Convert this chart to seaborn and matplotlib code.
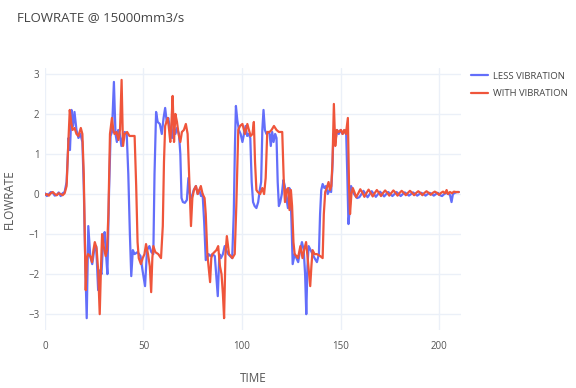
import matplotlib
matplotlib.use("Agg")
import matplotlib.pyplot as plt
import seaborn as sns
import pandas as pd

# ---------------- data ----------------
less_t = [0, 1, 2, 3, 4, 5, 6, 7, 8, 9, 10, 11, 12, 12.7, 13.5, 14.3, 15, 16, 17, 18, 19,
          19.7, 20.5, 21.2, 22, 23, 24, 25, 26, 27, 28, 28.7, 29.5, 30.3, 31, 31.7, 32.5,
          33.3, 34, 35, 35.8, 36.5, 37.2, 38, 38.8, 39.5, 40.5, 41.5, 42.3, 43.1, 43.8,
          44.6, 45.5, 47, 48.5, 49.5, 50.8, 51.8, 53, 54, 55, 55.6, 56.4, 57.2, 58.3,
          59.3, 60.2, 61, 61.8, 62.6, 63.5, 64.5, 65.3, 66.2, 67, 68, 68.7, 69.3, 70, 71,
          72, 72.8, 73.5, 74.3, 75.5, 76.6, 77.5, 78.3, 79.2, 80, 80.8, 81.6, 82.3, 83,
          84, 85, 86.2, 86.9, 87.7, 88.5, 89.3, 90.3, 91.2, 92, 93, 94, 95, 95.8, 96.4,
          96.9, 97.6, 98.4, 99.3, 100.2, 101, 101.8, 102.6, 103.4, 104.2, 104.9, 105.6,
          106.4, 107.3, 108.2, 109, 109.7, 110.3, 110.9, 111.6, 112.4, 113.2, 114, 114.6,
          115.3, 116, 116.8, 117.5, 118.1, 118.7, 119.4, 120.2, 121, 121.7, 122.5, 123.3,
          124, 124.6, 125.1, 125.7, 126.7, 127.6, 128.5, 129.5, 130.4, 131.3, 132, 132.6,
          133.2, 133.8, 134.8, 135.8, 136.8, 138, 139, 139.6, 140.2, 140.9, 141.8, 142.6,
          143.5, 144.4, 145.2, 145.8, 146.4, 147.3, 148.2, 149.1, 150, 151, 152, 152.8,
          153.4, 154, 154.6, 155.3, 156, 156.8, 157.6, 158.4, 159.5, 160.6, 161.6, 162.7,
          163.7, 164.8, 165.8, 166.9, 167.9, 169, 170, 171.1, 172.1, 173.2, 174.2, 175.3,
          176.3, 177.4, 178.4, 179.5, 180.5, 181.6, 182.6, 183.7, 184.7, 185.8, 186.8,
          187.9, 188.9, 190, 191, 192.1, 193.1, 194.2, 195.2, 196.3, 197.3, 198.4, 199.4,
          200.5, 201.5, 202.6, 203.6, 204.7, 205.5, 206.3, 207, 208, 209, 210]
less_v = [0.02, -0.05, 0.0, 0.05, 0.03, -0.04, -0.02, 0.04, -0.05, 0.02, 0.05, 0.3, 1.4, 1.1,
          2.1, 1.7, 2.05, 1.6, 1.4, 1.5, 1.3,
          0.2, -1.8, -3.1, -0.8, -1.55, -1.75, -1.4, -1.3, -2.4, -1.9, -2.0, -1.2, -0.95,
          -1.5, -2.0, 0.0,
          1.45, 1.55, 2.8, 1.5, 1.3, 1.6, 1.5, 1.2, 1.4, 1.55, 1.5, 0.5, -1.0, -2.05,
          -1.4, -1.5, -1.45, -1.55, -1.9, -2.3, -1.4, -1.3, -1.45, -1.5, 0.5, 2.05, 1.8, 1.75,
          1.5, 1.9, 2.15, 1.8, 1.9, 1.6, 1.4, 1.7, 1.5, 1.65, 1.5, 1.0, -0.1, -0.2, -0.22,
          -0.15, 0.4, 0.0, -0.1, 0.1, 0.2, 0.0, 0.1, -0.05, 0.0, -0.7, -1.65, -1.6, -1.5,
          -1.55, -1.5, -1.55, -2.0, -2.55, -1.5, -1.6, -1.5, -1.3, -1.4, -1.5, -1.55, -1.6, -0.5, 1.2,
          2.2, 1.85, 1.6, 1.5, 1.3, 1.5, 1.7, 1.45, 1.5, 1.4, 0.3, -0.2,
          -0.3, -0.35, -0.2, 0.1, 0.3, 1.6, 2.1, 1.6, 1.5, 1.55, 1.5, 1.2,
          1.55, 1.3, 1.5, 1.4, 0.3, -0.3, -0.2, 0.0, 0.35, 0.2, -0.1, -0.35,
          0.15, 0.0, -0.7, -1.75, -1.5, -1.6, -1.7, -1.4, -1.2, -1.4, -2.0, -3.0,
          -1.8, -1.3, -1.4, -1.5, -1.6, -1.7, -1.5, -0.5, 0.1, 0.25, 0.15, 0.2,
          0.0, 0.1, 0.05, 0.6, 1.5, 1.3, 1.6, 1.5, 1.6, 1.5, 1.55, 1.6,
          0.5, -0.75, -0.4, 0.2, 0.1, 0.0, -0.05, -0.1, -0.08, 0.0, 0.08, 0.0,
          -0.08, 0.0, 0.07, 0.0, -0.07, 0.0, 0.06, 0.0, -0.06, 0.0, 0.05, 0.0,
          -0.05, 0.0, 0.05, 0.0, -0.05, 0.0, 0.04, 0.0, -0.04, 0.0, 0.04,
          0.0, -0.04, 0.0, 0.03, 0.0, -0.04, 0.0, 0.03, 0.0, -0.04, 0.0, 0.03,
          -0.03, -0.05, 0.0, 0.03, 0.0, -0.02, -0.2, 0.0, 0.03, 0.05, 0.05]

with_t = [0, 1, 2, 3, 4, 5, 6, 7, 8, 9, 10, 11, 11.8, 12.6, 13.3, 14, 15, 16, 17, 18.2, 19,
          19.7, 20.7, 21.3, 21.9, 23, 23.9, 24.6, 25.3, 26.2, 27, 27.8, 28.4, 29, 29.8,
          30.8, 31.5, 32.2, 33, 34, 34.7, 35.3, 36.3, 37.3, 38.1, 38.9, 39.6, 40.5, 41.7,
          42.9, 44.2, 45.5, 46.3, 47, 47.6, 48.7, 49.6, 50.5, 51.3, 52.3, 53.2, 53.9,
          54.5, 55, 56, 57.5, 58.9, 59.8, 60.4, 61, 62.3, 63, 63.6, 64.2, 64.8, 65.5,
          66.2, 67, 67.8, 68.7, 69.5, 70.5, 71.5, 72.4, 73.2, 74.1, 74.8, 75.6, 76.6,
          77.5, 78.3, 79.1, 80, 81, 81.6, 82.4, 83.8, 84.4, 85, 86, 87, 87.9, 88.8, 89.6,
          90.3, 90.9, 91.6, 92.3, 93.4, 94.3, 95.1, 96.3, 97.1, 98.1, 99, 100.2, 101.5,
          102.7, 103.5, 104.4, 105.3, 106, 106.6, 107.3, 108, 109.2, 110.3, 111.2, 112,
          112.8, 114, 115, 116.2, 117.5, 118.7, 120.4, 121.2, 121.8, 122.6, 123.4, 124.1,
          124.8, 125.4, 126.1, 126.7, 127.6, 128.4, 129.6, 130.7, 131.5, 132.5, 133.3,
          134.6, 135.2, 135.8, 136.8, 138, 139.7, 140.9, 141.5, 142.2, 143, 143.9, 144.6,
          145.3, 145.9, 146.6, 147.3, 148.1, 149, 150.2, 151, 151.8, 152.7, 153.7, 154.3,
          154.8, 155.5, 156.2, 157, 157.9, 159, 160, 161.1, 162.1, 163.2, 164.2, 165.3,
          166.3, 167.4, 168.4, 169.5, 170.5, 171.6, 172.6, 173.7, 174.7, 175.8, 176.8,
          177.9, 178.9, 180, 181, 182.1, 183.1, 184.2, 185.2, 186.3, 187.3, 188.4, 189.4,
          190.5, 191.5, 192.6, 193.6, 194.7, 195.7, 196.8, 197.8, 198.9, 199.9, 201, 202,
          203, 203.8, 204.5, 205.5, 206.5, 207.5, 208.5, 210]
with_v = [-0.02, 0.0, -0.04, 0.02, 0.05, 0.0, -0.03, 0.02, 0.0, -0.03, 0.02, 0.2, 1.2, 2.1,
          1.8, 1.6, 1.65, 1.5, 1.45, 1.65, 1.5,
          0.5, -2.4, -1.6, -1.5, -1.55, -1.7, -1.4, -1.2, -1.35, -1.9, -3.0, -1.9, -1.0, -1.3,
          -1.55, -1.4, -0.5, 1.5, 1.9, 1.6, 1.5, 1.55, 1.35, 1.6, 2.85, 1.2, 1.5, 1.55,
          1.45, 1.45, 1.45, 0.2, -1.2, -1.6, -1.75, -1.6, -1.5, -1.25, -1.5, -1.8, -2.45,
          -1.6, -1.3, -1.45, -1.5, -1.6, -0.8, 0.8, 1.7, 1.9, 1.6, 1.3, 1.8, 2.45, 1.3,
          2.0, 1.8, 1.5, 1.3, 1.55, 1.6, 1.75, 1.5, 0.4, -0.8, -0.1, 0.1, 0.2,
          0.0, 0.1, 0.2, 0.0, -0.1, -0.5, -1.5, -2.2, -1.6, -1.5, -1.45, -1.4, -1.3, -1.8, -2.0,
          -2.5, -3.1, -1.5, -1.05, -1.5, -1.55, -1.6, -1.5, -0.3, 1.6, 1.7, 1.75, 1.5,
          1.75, 1.6, 1.45, 1.5, 1.8, 0.8, 0.1, 0.05, 0.0, 0.15, 0.0, 0.4,
          1.55, 1.55, 1.6, 1.7, 1.6, 1.55, 1.55, 0.3, -0.2, 0.1, 0.15, -0.4,
          0.1, -0.3, -1.2, -1.5, -1.55, -1.6, -1.3, -1.6, -1.4, -1.2, -1.6,
          -2.3, -1.8, -1.4, -1.5, -1.5, -1.55, -1.6, -0.5, 0.05, 0.15, 0.3, 0.1,
          0.2, 0.8, 2.25, 1.2, 1.6, 1.55, 1.6, 1.5, 1.6, 1.5, 1.9, 0.2,
          -0.5, 0.0, 0.15, 0.05, -0.08, 0.02, 0.12, 0.03, -0.07, 0.03, 0.11, 0.03,
          -0.06, 0.03, 0.1, 0.03, -0.05, 0.03, 0.09, 0.03, -0.04, 0.03, 0.09,
          0.03, -0.04, 0.03, 0.08, 0.03, -0.03, 0.03, 0.08, 0.03, -0.03, 0.03, 0.07,
          0.03, -0.03, 0.03, 0.07, 0.03, -0.02, 0.03, 0.06, 0.03, -0.02, 0.03, 0.06,
          0.02, 0.1, 0.0, 0.05, 0.02, 0.06, 0.05, 0.05]

series_names = ["LESS VIBRATION", "WITH VIBRATION"]
series_colors = ["#636EFA", "#EF553B"]
x_ticks = [0, 50, 100, 150, 200]
y_ticks = [-3, -2, -1, 0, 1, 2, 3]
title_text = "FLOWRATE @ 15000mm3/s"
x_label = "TIME"
y_label = "FLOWRATE"

df = pd.concat([
    pd.DataFrame({"TIME": less_t, "FLOWRATE": less_v, "series": series_names[0]}),
    pd.DataFrame({"TIME": with_t, "FLOWRATE": with_v, "series": series_names[1]}),
], ignore_index=True)

# ---------------- plot ----------------
sns.set_theme(style="white")
plt.rcParams["font.family"] = ["Open Sans", "DejaVu Sans"]

fig = plt.figure(figsize=(5.76, 3.88), dpi=100)
ax = fig.add_axes([0.078, 0.149, 0.722, 0.676])

sns.lineplot(data=df, x="TIME", y="FLOWRATE", hue="series",
             palette=dict(zip(series_names, series_colors)),
             estimator=None, sort=False, linewidth=1.6, ax=ax)

ax.set_xlim(0, 211)
ax.set_ylim(-3.4, 3.15)
ax.set_xticks(x_ticks)
ax.set_yticks(y_ticks)
ax.grid(True, color="#EBF0F8", linewidth=1.0)
ax.set_axisbelow(True)
for s in ax.spines.values():
    s.set_visible(False)
ax.tick_params(axis="both", length=0, labelsize=7, labelcolor="#555555")
ax.tick_params(axis="x", pad=8)
ax.tick_params(axis="y", pad=4)

ax.set_xlabel(x_label, fontsize=8.5, color="#555555", labelpad=14)
ax.set_ylabel(y_label, fontsize=8.5, color="#555555", labelpad=9)
fig.text(0.03, 0.955, title_text, fontsize=9.5, color="#444444", ha="left", va="center")

handles, labels = ax.get_legend_handles_labels()
leg = ax.legend(handles, labels, loc="upper left", bbox_to_anchor=(1.015, 1.0),
                frameon=False, fontsize=6.8, handlelength=1.8, handletextpad=0.5,
                labelspacing=0.9, borderaxespad=0.0)
for t in leg.get_texts():
    t.set_color("#444444")

fig.savefig("out.png", dpi=100)
